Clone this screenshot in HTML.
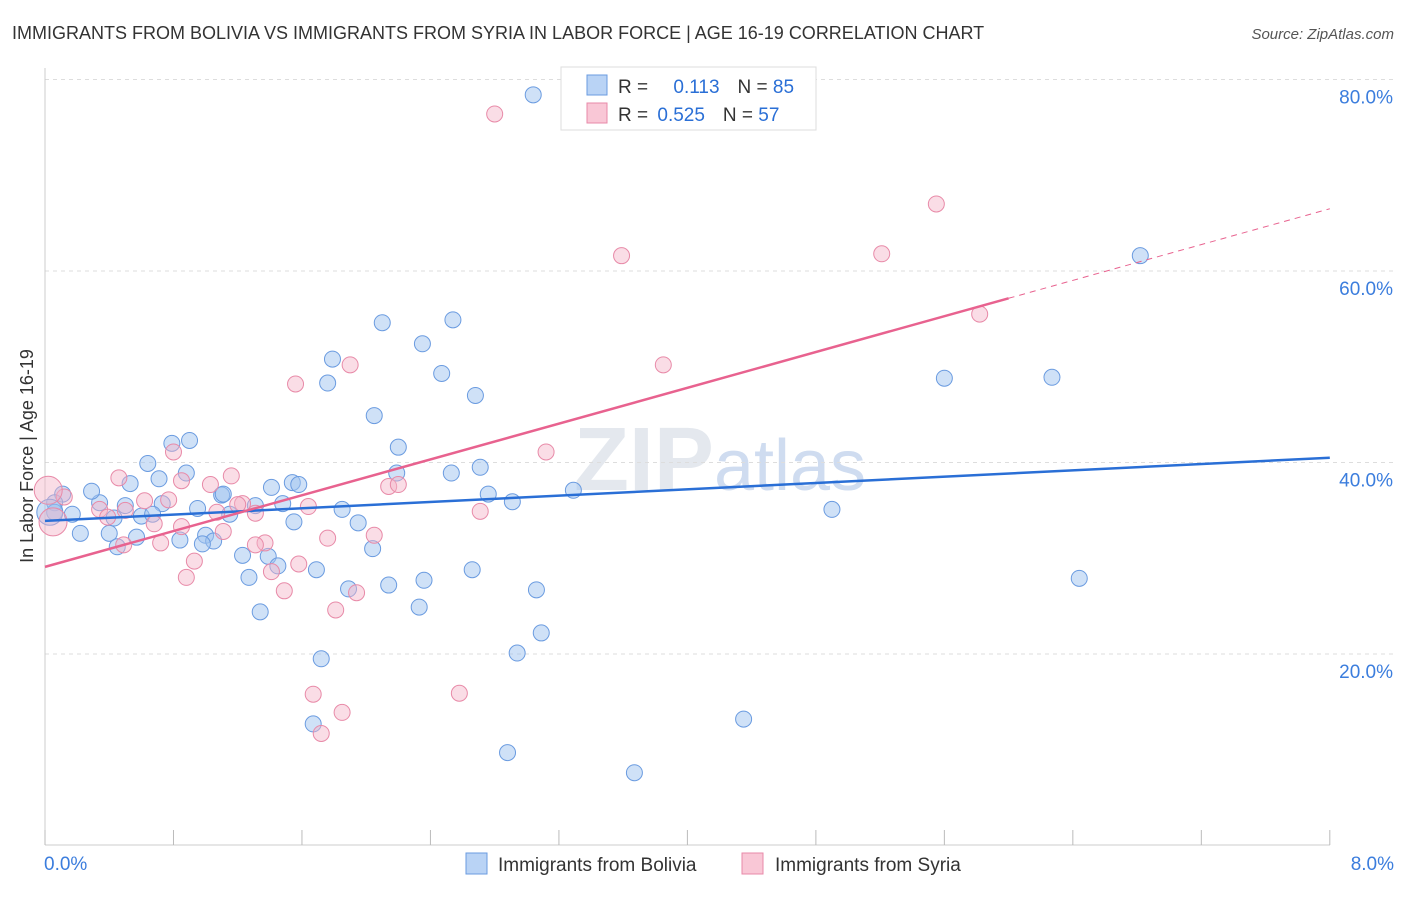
<!DOCTYPE html>
<html><head><meta charset="utf-8"><style>
body{margin:0;background:#fff;font-family:"Liberation Sans",sans-serif}
svg text{font-family:"Liberation Sans",sans-serif}
</style></head><body>
<svg id="chart" width="1406" height="892">
<text x="12" y="39" font-size="18" fill="#333">IMMIGRANTS FROM BOLIVIA VS IMMIGRANTS FROM SYRIA IN LABOR FORCE | AGE 16-19 CORRELATION CHART</text>
<text x="1394" y="39" font-size="15" fill="#555" font-style="italic" text-anchor="end">Source: ZipAtlas.com</text>
<text x="33" y="456" font-size="18" fill="#333" text-anchor="middle" transform="rotate(-90 33 456)">In Labor Force | Age 16-19</text>
<text x="720" y="490" font-size="90" fill="#e4e8ee" text-anchor="middle" font-weight="bold">ZIP<tspan fill="#cfdcf0" font-weight="normal" font-size="72">atlas</tspan></text>
<g id="grid"></g><g id="marks"></g>
<g>
<rect x="561" y="67" width="255" height="63" fill="#fff" stroke="#ddd"/>
<rect x="587" y="75" width="20" height="20" fill="#b9d3f5" stroke="#6a9be0"/>
<rect x="587" y="103" width="20" height="20" fill="#f9c7d6" stroke="#e88aa8"/>
<text x="618" y="93" font-size="19" fill="#333">R = <tspan fill="#2a6fd6" dx="20">0.113</tspan><tspan dx="18" fill="#333">N = </tspan><tspan fill="#2a6fd6">85</tspan></text>
<text x="618" y="121" font-size="19" fill="#333">R = <tspan fill="#2a6fd6" dx="4">0.525</tspan><tspan dx="18" fill="#333">N = </tspan><tspan fill="#2a6fd6">57</tspan></text>
</g>
<g>
<rect x="466" y="853" width="21" height="21" fill="#b9d3f5" stroke="#6a9be0"/>
<text x="498" y="871" font-size="19" fill="#333">Immigrants from Bolivia</text>
<rect x="742" y="853" width="21" height="21" fill="#f9c7d6" stroke="#e88aa8"/>
<text x="775" y="871" font-size="19" fill="#333">Immigrants from Syria</text>
</g>
</svg>
<script>
const boliviaX=[3.04,6.82,2.10,2.54,2.35,1.79,1.76,2.47,2.68,5.60,6.27,2.05,2.20,0.90,0.79,0.64,2.71,2.53,2.19,2.76,3.29,2.91,1.85,4.90,1.54,1.58,1.41,1.10,1.31,1.48,1.55,1.95,1.15,0.95,0.73,0.50,0.34,0.29,0.11,0.06,0.06,0.17,0.43,0.60,0.67,0.22,0.40,0.57,0.45,0.84,1.00,1.05,0.98,1.23,1.39,1.45,1.69,2.04,2.66,1.27,2.14,2.36,1.89,3.06,6.44,2.33,1.34,3.09,1.72,2.94,1.67,4.35,2.88,3.67,0.71,0.53,0.88,1.11,0.03];
const boliviaY=[78.4,61.6,54.6,54.9,52.4,50.8,48.3,49.3,47.0,48.8,48.9,44.9,41.6,42.3,42.0,39.9,39.5,38.9,38.9,36.7,37.1,35.9,35.1,35.1,37.9,37.7,37.4,36.6,35.5,35.7,33.8,33.7,34.6,35.2,35.7,35.5,35.8,37.0,36.7,35.8,34.8,34.6,34.2,34.4,34.6,32.6,32.6,32.2,31.2,31.9,32.4,31.8,31.5,30.3,30.2,29.2,28.8,31.0,28.8,28.0,27.2,27.7,26.8,26.7,27.9,24.9,24.4,22.2,19.5,20.1,12.7,13.2,9.7,7.6,38.3,37.8,38.9,36.7,34.8];
const boliviaSize=[8,8,8,8,8,8,8,8,8,8,8,8,8,8,8,8,8,8,8,8,8,8,8,8,8,8,8,8,8,8,8,8,8,8,8,8,8,8,8,8,8,8,8,8,8,8,8,8,8,8,8,8,8,8,8,8,8,8,8,8,8,8,8,8,8,8,8,8,8,8,8,8,8,8,8,8,8,8,13];
const syriaX=[2.80,5.55,3.59,5.21,5.82,1.90,3.85,1.56,3.12,0.80,0.46,1.16,0.85,1.03,2.14,2.20,2.71,0.62,0.77,0.12,0.34,0.50,1.23,1.31,1.07,1.20,0.39,0.68,0.85,1.11,1.64,1.76,2.05,1.37,1.31,0.72,0.49,0.93,1.58,1.41,0.88,1.49,1.94,1.81,1.67,2.58,1.85,1.72,0.02,0.05];
const syriaY=[76.4,67.0,61.6,61.8,55.5,50.2,50.2,48.2,41.1,41.1,38.4,38.6,38.1,37.7,37.5,37.7,34.9,36.0,36.1,36.4,35.1,35.0,35.7,34.7,34.8,35.6,34.3,33.6,33.3,32.8,35.4,32.1,32.4,31.6,31.4,31.6,31.4,29.7,29.4,28.6,28.0,26.6,26.4,24.6,15.8,15.9,13.9,11.7,37.1,33.8];
const syriaSize=[8,8,8,8,8,8,8,8,8,8,8,8,8,8,8,8,8,8,8,8,8,8,8,8,8,8,8,8,8,8,8,8,8,8,8,8,8,8,8,8,8,8,8,8,8,8,8,8,14,14];
const yTicks=[20,40,60,80];
const yTickLabels=["20.0%","40.0%","60.0%","80.0%"];
const xTickLabels=["0.0%","8.0%"];
const boliviaTrend=[33.9,40.5];
const syriaTrend=[29.1,66.5];
const syriaSolidEnd=6.0;
const sx=v=>45+v*160.6;
const sy=v=>845.5-v*9.575;
const NS="http://www.w3.org/2000/svg";
function mk(tag,attrs,parent){const e=document.createElementNS(NS,tag);for(const k in attrs)e.setAttribute(k,attrs[k]);parent.appendChild(e);return e;}
const grid=document.getElementById('grid'),marks=document.getElementById('marks');
yTicks.forEach((t,i)=>{
 const l=mk('line',{x1:45,x2:1394,y1:sy(t),y2:sy(t),stroke:'#ddd','stroke-dasharray':'4 4'},grid);
 
 
 const tx=mk('text',{x:1393,y:sy(t)+24,'font-size':19,fill:'#3b7ddd','text-anchor':'end'},grid);
 tx.textContent=yTickLabels[i];
 
 
});
const ax=mk('line',{x1:45,x2:45,y1:68,y2:845,stroke:'#ccc'},grid);


const bx=mk('line',{x1:45,x2:1330,y1:845,y2:845,stroke:'#ccc'},grid);


for(let i=0;i<=10;i++){
 const v=i*0.8;
 const t=mk('line',{x1:sx(v),x2:sx(v),y1:830,y2:845,stroke:'#bbb'},grid);
 
 
}
[[0,44,'start'],[8,1394,'end']].forEach((d,i)=>{
 const t=mk('text',{x:d[1],y:870,'font-size':19,fill:'#3b7ddd','text-anchor':d[2]},grid);
 t.textContent=xTickLabels[i];
 
 
});
boliviaX.forEach((x,i)=>{
 const c=mk('circle',{cx:sx(x),cy:sy(boliviaY[i]),r:boliviaSize[i],fill:'rgba(160,195,240,0.5)',stroke:'#6a9be0','stroke-width':1},marks);
 
 
});
syriaX.forEach((x,i)=>{
 const c=mk('circle',{cx:sx(x),cy:sy(syriaY[i]),r:syriaSize[i],fill:'rgba(245,180,200,0.45)',stroke:'#e88aa8','stroke-width':1},marks);
 
 
});
const bl=mk('line',{x1:sx(0),y1:sy(boliviaTrend[0]),x2:sx(8),y2:sy(boliviaTrend[1]),stroke:'#2a6fd6','stroke-width':2.5},marks);


const slope=(syriaTrend[1]-syriaTrend[0])/8;
const ym=syriaTrend[0]+slope*syriaSolidEnd;
const pl=mk('line',{x1:sx(0),y1:sy(syriaTrend[0]),x2:sx(syriaSolidEnd),y2:sy(ym),stroke:'#e8628f','stroke-width':2.5},marks);


const pd=mk('line',{x1:sx(syriaSolidEnd),y1:sy(ym),x2:sx(8),y2:sy(syriaTrend[1]),stroke:'#e8628f','stroke-width':1,'stroke-dasharray':'6 5'},marks);


</script>
</body></html>
